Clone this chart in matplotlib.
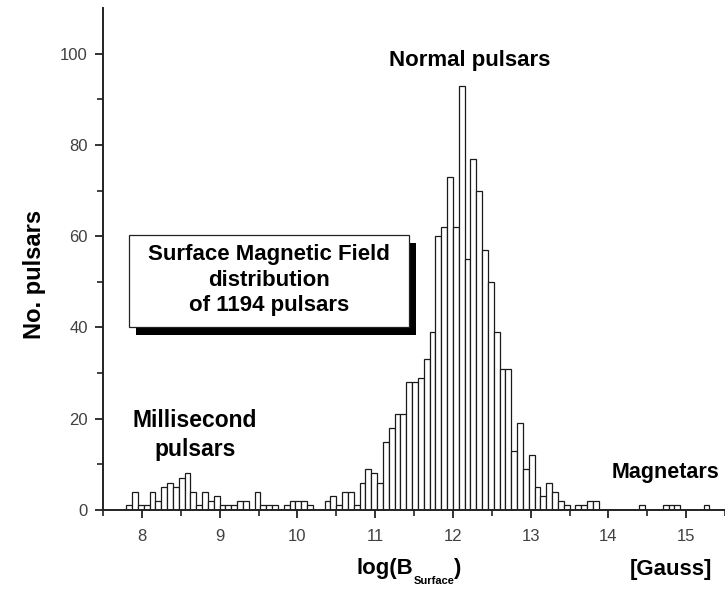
import matplotlib
matplotlib.use('Agg')
import matplotlib.pyplot as plt
import numpy as np
from matplotlib.patches import Rectangle

plt.rcParams['font.family'] = ['Liberation Sans', 'DejaVu Sans']

# ---- data: histogram of log(B_surface) ----
bin_start = 7.8
bin_width = 0.075
counts = [1, 4, 1, 1, 4, 2, 5, 6, 5, 7,
          8, 4, 1, 4, 2, 3, 1, 1, 1, 2,
          2, 0, 4, 1, 1, 1, 0, 1, 2, 2,
          2, 1, 0, 0, 2, 3, 1, 4, 4, 1,
          6, 9, 8, 6, 15, 18, 21, 21, 28, 28,
          29, 33, 39, 60, 62, 73, 62, 93, 55, 77,
          70, 57, 50, 39, 31, 31, 13, 19, 9, 12,
          5, 3, 6, 4, 2, 1, 0, 1, 1, 2,
          2, 0, 0, 0, 0, 0, 0, 0, 1, 0,
          0, 0, 1, 1, 1, 0, 0, 0, 0, 1]
x_major = [8, 9, 10, 11, 12, 13, 14, 15]
y_major = [0, 20, 40, 60, 80, 100]

lefts = bin_start + bin_width * np.arange(len(counts))

W, H = 725, 590
fig = plt.figure(figsize=(W / 100, H / 100), dpi=100)
ax = fig.add_axes([103 / W, 80 / H, 622 / W, 502 / H])

ax.bar(lefts, counts, width=bin_width, align='edge', color='white',
       edgecolor='#1a1a1a', linewidth=0.9)

ax.set_xlim(7.5, 15.5)
ax.set_ylim(0, 110)
for s in ['top', 'right']:
    ax.spines[s].set_visible(False)
for s in ['left', 'bottom']:
    ax.spines[s].set_linewidth(1.4)
    ax.spines[s].set_color('#222222')

ax.set_xticks(x_major)
ax.set_xticks(np.arange(7.5, 15.6, 1.0), minor=True)
ax.set_yticks(y_major)
ax.set_yticks([10, 30, 50, 70, 90], minor=True)
ax.tick_params(which='major', direction='out', length=6, width=1.3,
               labelsize=12, labelcolor='#404040', color='#222222', pad=5)
ax.tick_params(axis='x', which='major', pad=8)
ax.tick_params(which='minor', direction='out', length=4, width=1.2,
               color='#222222')

# x label: log(B_Surface) built from pieces so the subscript stays small
t1 = fig.text(357 / W, 1 - 574 / H, 'log(B', ha='left', va='baseline',
              fontsize=16, fontweight='bold')
t2 = ax.annotate('Surface', xy=(1, 0), xycoords=t1, xytext=(0.3, -3.5),
                 textcoords='offset points', ha='left', va='baseline',
                 fontsize=8, fontweight='bold', annotation_clip=False)
t3 = ax.annotate(')', xy=(1, 0), xycoords=(t2, t1), xytext=(-1.5, 0),
                 textcoords='offset points', ha='left', va='bottom',
                 fontsize=16, fontweight='bold', annotation_clip=False)

fig.text(671 / W, 1 - 575 / H, '[Gauss]', ha='center', va='baseline',
         fontsize=16, fontweight='bold')
fig.text(35 / W, 1 - 274 / H, 'No. pulsars', ha='center', va='center',
         rotation=90, fontsize=17, fontweight='bold')

ax.text(12.22, 98.5, 'Normal pulsars', ha='center', va='center',
        fontsize=16, fontweight='bold')
ax.text(8.68, 16.5, 'Millisecond\npulsars', ha='center', va='center',
        fontsize=16.5, fontweight='bold', linespacing=1.35)
ax.text(14.73, 8.3, 'Magnetars', ha='center', va='center',
        fontsize=15.5, fontweight='bold')

# text box with drop shadow
bx0, by0, bw, bh = 129 / W, 1 - 327 / H, 280 / W, 92 / H
shadow = Rectangle((bx0 + 7 / W, by0 - 8 / H), bw, bh, transform=fig.transFigure,
                   facecolor='black', edgecolor='none', zorder=5)
box = Rectangle((bx0, by0), bw, bh, transform=fig.transFigure,
                facecolor='white', edgecolor='#222222', linewidth=0.9, zorder=6)
fig.add_artist(shadow)
fig.add_artist(box)
fig.text(bx0 + bw / 2, by0 + bh / 2 + 1 / H,
         'Surface Magnetic Field\ndistribution\nof 1194 pulsars',
         ha='center', va='center', fontsize=16, fontweight='bold',
         linespacing=1.3, zorder=7)

fig.savefig('out.png', dpi=100)
